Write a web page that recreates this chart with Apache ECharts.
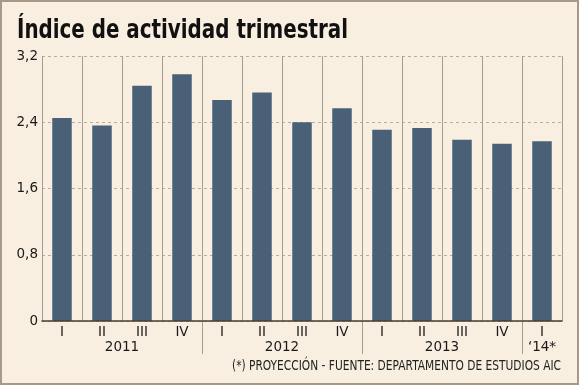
<!DOCTYPE html>
<html>
<head>
<meta charset="utf-8">
<script src="https://cdn.jsdelivr.net/npm/echarts@6/dist/echarts.min.js"></script>
<style>
html,body{margin:0;padding:0;background:#f8efe0;}
#wrap{position:relative;width:579px;height:385px;}
#chart{width:579px;height:385px;}
#frame{position:absolute;left:0;top:0;width:579px;height:385px;box-sizing:border-box;border:2px solid #a89888;pointer-events:none;}
</style>
</head>
<body>
<div id="wrap"><div id="chart"></div><div id="frame"></div></div>
<script>
const titleText = 'Índice de actividad trimestral';
const noteText = '(*) PROYECCIÓN - FUENTE: DEPARTAMENTO DE ESTUDIOS AIC';
const quarters = ['I','II','III','IV','I','II','III','IV','I','II','III','IV','I'];
const values = [2.45, 2.36, 2.84, 2.98, 2.67, 2.76, 2.40, 2.57, 2.31, 2.33, 2.19, 2.14, 2.17];
const yearLabels = ['2011','2012','2013','\u201814*'];
const yearCenters = [4, 12, 20, 25];      // in half-quarter steps
const yearBreaks = [8, 16, 24];           // in half-quarter steps

const halfSteps = [];
for (let i = 0; i <= quarters.length * 2; i++) {
  const k = yearCenters.indexOf(i);
  halfSteps.push(k >= 0 ? yearLabels[k] : '');
}

// condense text horizontally to the reference widths
function fitScale(text, font, target) {
  const c = document.createElement('canvas').getContext('2d');
  c.font = font;
  return target / c.measureText(text).width;
}
const titleFont = 'bold 26px "DejaVu Sans"';
const noteFont = '14px "DejaVu Sans"';
const titleScale = fitScale(titleText, titleFont, 331);
const noteScale = fitScale(noteText, noteFont, 329);

const labelFont = '"DejaVu Sans", sans-serif';
const chart = echarts.init(document.getElementById('chart'));
chart.setOption({
  backgroundColor: '#f8efe0',
  animation: false,
  graphic: [{
    type: 'text', x: 17, y: 18.5, scaleX: titleScale,
    style: {text: titleText, font: titleFont, fill: '#111', align: 'left', verticalAlign: 'top'}
  }, {
    type: 'text', x: 561, y: 359, scaleX: noteScale,
    style: {text: noteText, font: noteFont, fill: '#222', align: 'right', verticalAlign: 'top'}
  }],
  grid: {left: 42, right: 17, top: 56, bottom: 64},
  xAxis: [{
    type: 'category',
    data: quarters,
    boundaryGap: true,
    axisLine: {show: true, lineStyle: {color: '#4a3e34', width: 1.5}},
    axisTick: {show: false},
    axisLabel: {interval: 0, margin: 4, fontFamily: labelFont, fontSize: 13.5, color: '#1a1a1a'},
    splitLine: {show: true, interval: 0, lineStyle: {color: '#a59d95', width: 1}},
    z: 3
  }, {
    type: 'category',
    data: halfSteps,
    boundaryGap: false,
    position: 'bottom',
    axisLine: {show: false},
    axisTick: {show: true, interval: (i) => yearBreaks.indexOf(i) >= 0, length: 33, lineStyle: {color: '#a59d95', width: 1}},
    axisLabel: {interval: (i) => yearCenters.indexOf(i) >= 0, margin: 19.5, fontFamily: labelFont, fontSize: 13.5, color: '#1a1a1a'},
    splitLine: {show: false}
  }],
  yAxis: {
    type: 'value',
    min: 0, max: 3.2, interval: 0.8,
    axisLine: {show: false},
    axisTick: {show: false},
    axisLabel: {margin: 4, fontFamily: labelFont, fontSize: 13.5, color: '#1a1a1a',
      formatter: (v) => String(+v.toFixed(1)).replace('.', ',')},
    splitLine: {show: true, lineStyle: {color: '#b5aca3', width: 1, type: [3, 3]}}
  },
  series: [{
    type: 'bar',
    xAxisIndex: 0,
    data: values,
    barWidth: 19.5,
    itemStyle: {color: '#4a6076'}
  }]
});
</script>
</body>
</html>
